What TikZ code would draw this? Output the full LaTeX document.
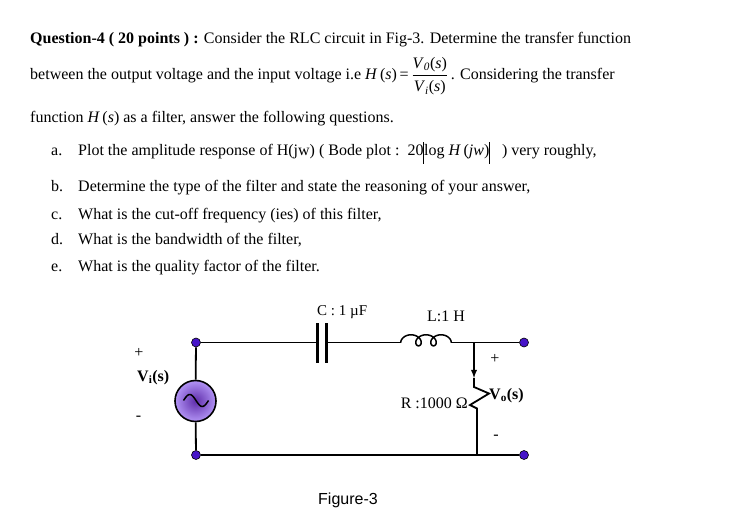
\documentclass[tikz,border=0pt]{standalone}
\usepackage{fontspec}
\setmainfont{Liberation Serif}
\setsansfont{Liberation Sans}
\usetikzlibrary{shapes}
\definecolor{dotblue}{RGB}{70,20,200}
\definecolor{srcin}{RGB}{95,45,170}
\definecolor{srcout}{RGB}{178,148,245}
\tikzstyle{tx}=[anchor=base west,inner sep=0pt,font=\fontsize{16}{19}\selectfont]
\tikzstyle{lb}=[inner sep=0pt,font=\fontsize{16}{19}\selectfont]
\tikzstyle{dt}=[circle,draw=black,line width=0.6pt,fill=dotblue,minimum size=9pt,inner sep=0pt]
\tikzstyle{wr}=[line width=1.8pt]
\newcommand{\vbr}{\rule[-8pt]{0.7pt}{22pt}}

\begin{document}
\begin{tikzpicture}[x=1pt,y=-1pt]
\fill[white] (0,0) rectangle (738,518);
\useasboundingbox (0,0) rectangle (738,518);
% question text
\node[tx] (q1) at (30,44) {\textbf{Question-4 ( 20 points ) :} Consider the RLC circuit in Fig-3. Determine the transfer function};
\node[tx] (q2) at (30,80) {between the output voltage and the input voltage i.e \textit{H}\,(\textit{s})\,=\,$\displaystyle\frac{\mbox{\textit{V}\textsubscript{\textit{0}}(\textit{s})}}{\mbox{\textit{V}\textsubscript{\textit{i}}(\textit{s})}}$\,. Considering the transfer};
\node[tx] (q3) at (30,123) {function \textit{H}\,(\textit{s}) as a filter, answer the following questions.};
\node[tx] (la) at (51,156) {a.};
\node[tx] (ia) at (78,156) {Plot the amplitude response of H(jw) ( Bode plot :\ \ 20\vbr log \textit{H}\,(\textit{jw})\vbr\ \ \ ) very roughly,};
\node[tx] (lb) at (51,191.5) {b.};
\node[tx] (ib) at (78,191.5) {Determine the type of the filter and state the reasoning of your answer,};
\node[tx] (lc) at (51,220) {c.};
\node[tx] (ic) at (78,220) {What is the cut-off frequency (ies) of this filter,};
\node[tx] (ld) at (51,245) {d.};
\node[tx] (id) at (78,245) {What is the bandwidth of the filter,};
\node[tx] (le) at (51,272) {e.};
\node[tx] (ie) at (78,272) {What is the quality factor of the filter.};

% circuit
\node[dt] (t1) at (196,342.5) {};
\node[dt] (t2) at (196,455) {};
\node[dt] (t3) at (524,342.5) {};
\node[dt] (t4) at (524,455) {};
\node[circle,draw=black,line width=1.6pt,minimum size=41pt,inner sep=0pt,inner color=srcin,outer color=srcout] (vs) at (195.5,401) {};
\draw[line width=1.5pt] plot[domain=0:360,samples=40,variable=\t] ({183.5+\t/360*25},{400.5-6*sin(\t)});
\draw[wr] (t1) -- (vs);
\draw[wr] (vs) -- (t2);
\coordinate (c1) at (317,342.5);
\coordinate (c2) at (326,342.5);
\draw[line width=3pt] (317,323) -- (317,363);
\draw[line width=3pt] (326,323) -- (326,363);
\draw[wr] (t1) -- (c1);
\coordinate (l1) at (400.8,342.5);
\coordinate (l2) at (451.2,342.5);
\draw[wr] (c2) -- (l1);
\draw[line width=1.5pt] plot[domain=1.162:17.688,samples=160,variable=\t] ({403.5+15*\t/(2*pi)-6*sin(\t r)},{345.8-5.5*(1-cos(\t r))});
\coordinate (jn) at (474,342.5);
\draw[wr] (l2) -- (jn);
\draw[wr] (jn) -- (t3);
\coordinate (ar) at (474,378);
\coordinate (r1) at (474,387);
\coordinate (r2) at (489,393.5);
\coordinate (r3) at (470,405);
\coordinate (r4) at (477,408.5);
\coordinate (r5) at (477,455);
\draw[wr,-latex] (jn) -- (ar);
\draw[wr] (ar) -- (r1) -- (r2) -- (r3) -- (r4) -- (r5);
\draw[wr] (t2) -- (t4);

% labels
\node[tx,font=\fontsize{15}{18}\selectfont] (cl) at (317,315) {C : 1 µF};
\node[tx] (ll) at (427,321.5) {L:1 H};
\node[lb,anchor=base east] (rl) at (468,408) {R :1000 Ω};
\node[tx] (vo) at (489,399) {\textbf{V\textsubscript{o}(s)}};
\node[tx] (vi) at (137,381) {\textbf{V\textsubscript{i}(s)}};
\node[lb] (pi) at (139,353) {+};
\node[lb] (mi) at (138.5,418) {-};
\node[lb] (po) at (495,359) {+};
\node[lb] (mo) at (496,437) {-};
\node[tx,font=\sffamily\fontsize{16}{19}\selectfont] (fg) at (318,504.3) {Figure-3};
\end{tikzpicture}
\end{document}
